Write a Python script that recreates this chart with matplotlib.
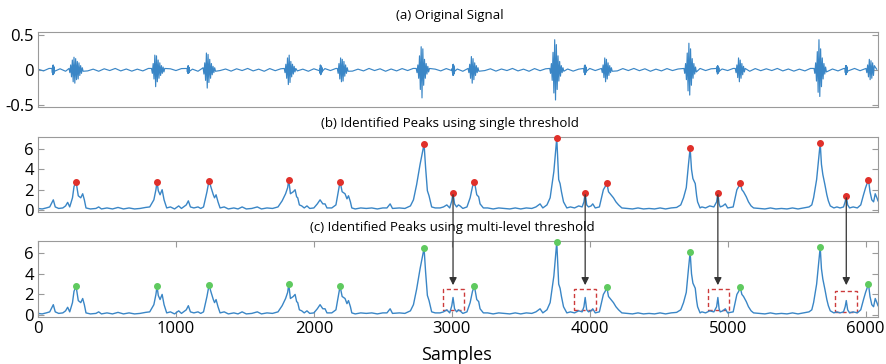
import matplotlib
matplotlib.use('Agg')
import numpy as np
import matplotlib.pyplot as plt
from matplotlib.patches import Rectangle, ConnectionPatch

plt.rcParams['font.family'] = ['Open Sans', 'DejaVu Sans']

# ---- (a) original signal: slow baseline ripple + oscillation bursts ----
base_x = list(range(0, 6120, 40))
base_y = [0.01, -0.015, 0.02, -0.01, 0.015, -0.02, 0.01, -0.012, 0.018, -0.015, 0.01, -0.02, 0.015, -0.01, 0.02, -0.015, 0.012,
          -0.018, 0.01, -0.015, 0.02, -0.01, 0.012, -0.02, 0.015, -0.01, 0.018, -0.012, 0.01, -0.02, 0.015, -0.015, 0.02,
          -0.01, 0.012, -0.018, 0.015, -0.01, 0.02, -0.015, 0.01, -0.02, 0.018, -0.012, 0.015, -0.01, 0.02, -0.015, 0.01,
          -0.02, 0.015, -0.012, 0.018, -0.01, 0.02, -0.015, 0.012, -0.018, 0.01, -0.015, 0.02, -0.01, 0.015, -0.02, 0.012,
          -0.015, 0.018, -0.01, 0.02, -0.012, 0.015, -0.02, 0.01, -0.015, 0.018, -0.01, 0.012, -0.02, 0.015, -0.015, 0.02,
          -0.01, 0.015, -0.018, 0.012, -0.01, 0.02, -0.015, 0.01, -0.02, 0.018, -0.012, 0.015, -0.01, 0.02, -0.015, 0.012,
          -0.018, 0.01, -0.015, 0.02, -0.01, 0.015, -0.02, 0.012, -0.015, 0.018, -0.01, 0.02, -0.012, 0.015, -0.02, 0.01,
          -0.015, 0.018, -0.01, 0.012, -0.02, 0.015, -0.015, 0.02, -0.01, 0.015, -0.018, 0.012, -0.01, 0.02, -0.015, 0.01,
          -0.02, 0.018, -0.012, 0.015, -0.01, 0.02, -0.015, 0.012, -0.018, 0.01, -0.015, 0.02, -0.01, 0.015, -0.02, 0.012,
          -0.015, 0.018, -0.01, 0.02, -0.012, 0.015, -0.02, 0.01]

burst_c = [111, 276, 871, 1090, 1242, 1827, 2052, 2209, 2790, 3012, 3157, 3761, 3967, 4124, 4728, 4929, 5091, 5671, 5860, 6033]
burst_step = [2, 6, 6, 2, 6, 6, 2, 6, 6, 2, 6, 6, 2, 6, 6, 2, 6, 6, 2, 6]
burst_w = [
    [0.02, -0.04, 0.06, -0.07, 0.07, -0.06, 0.05, -0.05, 0.03, -0.02],
    [0.02, -0.04, 0.07, -0.1, 0.14, -0.17, 0.18, -0.19, 0.16, -0.14, 0.12, -0.13, 0.1, -0.08, 0.06, -0.05, 0.03, -0.02],
    [0.02, -0.05, 0.09, -0.13, 0.21, -0.24, 0.2, -0.17, 0.14, -0.12, 0.1, -0.08, 0.06, -0.05, 0.04, -0.03, 0.02],
    [0.02, -0.03, 0.05, -0.05, 0.06, -0.05, 0.04, -0.04, 0.03, -0.02],
    [0.03, -0.06, 0.1, -0.15, 0.24, -0.26, 0.22, -0.18, 0.15, -0.12, 0.09, -0.07, 0.05, -0.04, 0.03, -0.02],
    [0.02, -0.04, 0.08, -0.12, 0.17, -0.21, 0.21, -0.18, 0.12, -0.1, 0.08, -0.06, 0.05, -0.03, 0.02],
    [0.02, -0.05, 0.07, -0.07, 0.06, -0.06, 0.05, -0.04, 0.03, -0.02],
    [0.02, -0.05, 0.09, -0.13, 0.17, -0.17, 0.15, -0.16, 0.12, -0.09, 0.07, -0.05, 0.03, -0.02],
    [0.02, -0.04, 0.07, -0.12, 0.2, -0.28, 0.33, -0.4, 0.3, -0.22, 0.15, -0.12, 0.09, -0.06, 0.05, -0.03, 0.02],
    [0.02, -0.04, 0.07, -0.08, 0.08, -0.07, 0.06, -0.05, 0.03, -0.02],
    [0.02, -0.04, 0.08, -0.12, 0.19, -0.19, 0.16, -0.14, 0.1, -0.08, 0.06, -0.04, 0.03, -0.02],
    [0.02, -0.05, 0.09, -0.15, 0.25, -0.33, 0.43, -0.43, 0.36, -0.28, 0.2, -0.16, 0.12, -0.09, 0.06, -0.04, 0.03, -0.02],
    [0.02, -0.04, 0.06, -0.07, 0.07, -0.06, 0.05, -0.04, 0.03, -0.02],
    [0.02, -0.04, 0.07, -0.11, 0.17, -0.17, 0.15, -0.13, 0.1, -0.08, 0.06, -0.04, 0.03, -0.02],
    [0.02, -0.05, 0.09, -0.14, 0.24, -0.3, 0.38, -0.36, 0.3, -0.22, 0.16, -0.12, 0.09, -0.06, 0.04, -0.03],
    [0.02, -0.03, 0.05, -0.06, 0.06, -0.05, 0.04, -0.04, 0.03, -0.02],
    [0.02, -0.04, 0.07, -0.11, 0.17, -0.17, 0.14, -0.12, 0.09, -0.07, 0.05, -0.03, 0.02],
    [0.02, -0.05, 0.1, -0.16, 0.26, -0.32, 0.43, -0.38, 0.3, -0.24, 0.17, -0.13, 0.09, -0.06, 0.04, -0.03],
    [0.02, -0.04, 0.06, -0.07, 0.06, -0.06, 0.05, -0.04, 0.03, -0.02],
    [0.02, -0.04, 0.07, -0.1, 0.15, -0.14, 0.13, -0.12, 0.1, -0.08, 0.06],
]

# ---- (b)/(c) envelope of the signal ----
env_x = [0, 30, 60, 85, 111, 125, 150, 180, 200, 215, 230, 250, 261, 276, 292, 310, 324, 336, 348, 380,
         420, 440, 460, 500, 540, 580, 620, 660, 700, 740, 780, 810, 840, 855, 863, 872, 885, 900, 914, 933,
         960, 990, 1020, 1040, 1075, 1090, 1105, 1130, 1160, 1180, 1200, 1225, 1240, 1255, 1271, 1280, 1291, 1305, 1320, 1350,
         1380, 1420, 1450, 1480, 1510, 1550, 1590, 1620, 1660, 1700, 1740, 1770, 1795, 1810, 1818, 1830, 1851, 1864, 1875, 1883,
         1895, 1912, 1930, 1950, 1970, 2000, 2025, 2045, 2065, 2081, 2095, 2130, 2160, 2180, 2190, 2205, 2226, 2240, 2251, 2265,
         2275, 2300, 2340, 2380, 2420, 2460, 2500, 2530, 2553, 2570, 2620, 2660, 2700, 2722, 2745, 2770, 2799, 2810, 2823, 2835,
         2854, 2880, 2915, 2940, 2964, 2985, 3000, 3009, 3020, 3035, 3048, 3060, 3080, 3110, 3133, 3150, 3164, 3181, 3195, 3205,
         3229, 3260, 3300, 3340, 3380, 3420, 3460, 3500, 3540, 3580, 3610, 3640, 3660, 3690, 3713, 3740, 3761, 3768, 3775, 3785,
         3795, 3810, 3834, 3860, 3890, 3920, 3945, 3958, 3967, 3978, 3991, 4010, 4022, 4040, 4070, 4099, 4112, 4124, 4136, 4148,
         4172, 4190, 4209, 4233, 4270, 4310, 4350, 4390, 4430, 4470, 4510, 4550, 4590, 4630, 4660, 4680, 4700, 4716, 4728, 4738,
         4748, 4765, 4775, 4782, 4800, 4813, 4840, 4870, 4900, 4920, 4929, 4938, 4946, 4965, 4983, 5000, 5040, 5067, 5080, 5091,
         5103, 5115, 5135, 5151, 5170, 5188, 5230, 5270, 5310, 5350, 5390, 5430, 5470, 5510, 5550, 5590, 5610, 5623, 5645, 5659,
         5671, 5680, 5690, 5705, 5719, 5730, 5744, 5770, 5792, 5815, 5840, 5852, 5860, 5870, 5884, 5910, 5940, 5965, 5985, 6000,
         6021, 6032, 6045, 6058, 6070, 6082, 6090]
env_y = [0.15, 0.1, 0.2, 0.3, 1.0, 0.3, 0.15, 0.2, 0.4, 0.75, 0.3, 1.2, 2.3, 2.8, 1.4, 1.2, 1.6, 1.0, 0.2, 0.1,
         0.15, 0.3, 0.1, 0.2, 0.1, 0.25, 0.1, 0.2, 0.1, 0.15, 0.25, 0.3, 1.0, 2.0, 2.8, 1.9, 1.5, 2.0, 1.0, 0.2,
         0.3, 0.1, 0.4, 0.15, 0.5, 0.9, 0.3, 0.2, 0.3, 0.15, 0.3, 1.8, 2.9, 2.2, 1.5, 1.2, 1.5, 0.8, 0.2, 0.3,
         0.1, 0.2, 0.1, 0.3, 0.1, 0.15, 0.3, 0.1, 0.2, 0.15, 0.3, 0.9, 1.6, 2.2, 3.0, 1.6, 1.8, 2.0, 1.3, 1.2,
         0.5, 0.4, 0.2, 0.4, 0.15, 0.2, 0.6, 1.0, 0.6, 0.6, 0.2, 0.2, 0.5, 2.0, 2.8, 1.8, 1.6, 1.1, 1.4, 0.8,
         0.2, 0.1, 0.2, 0.15, 0.2, 0.1, 0.2, 0.2, 0.6, 0.15, 0.2, 0.15, 0.4, 1.0, 2.5, 4.5, 6.5, 4.2, 1.9, 1.4,
         0.3, 0.2, 0.2, 0.3, 0.5, 0.2, 0.9, 1.7, 0.6, 0.3, 0.5, 0.4, 0.15, 0.3, 1.2, 2.3, 2.8, 1.5, 1.3, 0.6,
         0.2, 0.2, 0.1, 0.2, 0.15, 0.1, 0.2, 0.1, 0.2, 0.15, 0.3, 0.6, 0.2, 0.5, 1.2, 3.8, 7.1, 5.0, 3.0, 2.6,
         1.8, 0.8, 0.2, 0.3, 0.2, 0.4, 0.3, 0.8, 1.7, 0.5, 0.3, 0.4, 0.6, 0.2, 0.3, 2.0, 2.3, 2.7, 1.8, 1.6,
         1.2, 0.8, 0.5, 0.2, 0.15, 0.1, 0.2, 0.1, 0.15, 0.1, 0.2, 0.1, 0.2, 0.25, 0.5, 1.2, 2.2, 4.5, 6.1, 4.0,
         3.1, 2.6, 1.4, 0.8, 0.2, 0.3, 0.2, 0.4, 0.3, 0.8, 1.7, 0.6, 0.3, 0.4, 0.6, 0.2, 0.3, 2.0, 2.3, 2.7,
         2.0, 1.8, 1.3, 0.8, 0.4, 0.2, 0.15, 0.1, 0.2, 0.1, 0.15, 0.1, 0.2, 0.1, 0.2, 0.3, 0.5, 1.2, 3.0, 5.0,
         6.6, 4.5, 3.5, 2.5, 1.5, 0.9, 0.4, 0.2, 0.3, 0.2, 0.3, 0.8, 1.4, 0.5, 0.2, 0.3, 0.2, 0.5, 1.5, 2.2,
         3.0, 1.8, 1.0, 0.8, 1.6, 1.2, 0.9]

# peaks found with a single threshold (b)
peak_x = [276, 863, 1240, 1818, 2190, 2799, 3009, 3164, 3761, 3967, 4124, 4728, 4929, 5091, 5671, 5860, 6021]
peak_y = [2.8, 2.8, 2.9, 3.0, 2.8, 6.5, 1.7, 2.8, 7.1, 1.7, 2.7, 6.1, 1.7, 2.7, 6.6, 1.4, 3.0]
# peaks rejected by the multi-level threshold (c)
false_x = [3009, 3967, 4929, 5860]
box_x0 = [2937, 3887, 4858, 5780]
box_x1 = [3089, 4046, 5011, 5939]
box_y0 = [0.5, 0.5, 0.5, 0.3]
box_y1 = [2.5, 2.5, 2.5, 2.3]

line_col = '#3a86c6'
frame_col = '#9a9a9a'

# build signal of panel (a)
sx = np.array(base_x, dtype=float)
sy = np.array(base_y, dtype=float)
keep = np.ones(len(sx), bool)
bx, by = [], []
for c, s, w in zip(burst_c, burst_step, burst_w):
    half = (len(w) - 1) * s / 2
    keep &= ~((sx > c - half - s) & (sx < c + half + s))
    bx += list(c - half + s * np.arange(len(w)))
    by += w
allx = np.concatenate([sx[keep], bx])
ally = np.concatenate([sy[keep], by])
order = np.argsort(allx)
sig_x, sig_y = allx[order], ally[order]

fig = plt.figure(figsize=(8.87, 3.64), dpi=100)
L, W = 38 / 887, 840 / 887
ax_a = fig.add_axes([L, 1 - 107 / 364, W, 75 / 364])
ax_b = fig.add_axes([L, 1 - 212 / 364, W, 75 / 364])
ax_c = fig.add_axes([L, 1 - 317 / 364, W, 76 / 364])

ax_a.plot(sig_x, sig_y, color=line_col, lw=0.85)
ax_a.set_ylim(-0.53, 0.54)
ax_a.set_yticks([-0.5, 0, 0.5], ['-0.5', '0', '0.5'])

ax_b.plot(env_x, env_y, color=line_col, lw=1.0)
ax_b.plot(peak_x, peak_y, 'o', color='#e0302a', ms=4, clip_on=False, zorder=5)

ax_c.plot(env_x, env_y, color=line_col, lw=1.0)
gx = [x for x in peak_x if x not in false_x]
gy = [y for x, y in zip(peak_x, peak_y) if x not in false_x]
ax_c.plot(gx, gy, 'o', color='#5fca5f', ms=4, clip_on=False, zorder=5)
for x0, x1, y0, y1 in zip(box_x0, box_x1, box_y0, box_y1):
    ax_c.add_patch(Rectangle((x0, y0), x1 - x0, y1 - y0, fill=False, ls=(0, (3, 2)),
                             ec='#cc3b3b', lw=1.0))

for x, y in zip(false_x, [peak_y[peak_x.index(v)] for v in false_x]):
    con = ConnectionPatch(xyA=(x, y - 0.2), coordsA='data', axesA=ax_b,
                          xyB=(x, 2.9), coordsB='data', axesB=ax_c,
                          arrowstyle='-|>', color='#333333', lw=0.9, mutation_scale=11)
    fig.add_artist(con)

for ax in (ax_a, ax_b, ax_c):
    ax.set_xlim(0, 6090)
    for sp in ax.spines.values():
        sp.set_color(frame_col)
        sp.set_linewidth(0.8)
    ax.tick_params(direction='in', length=4, color=frame_col, labelsize=12, pad=3,
                   right=True, top=True)
for ax in (ax_b, ax_c):
    ax.set_ylim(-0.2, 7.2)
    ax.set_yticks([0, 2, 4, 6])
for ax in (ax_a, ax_b):
    ax.set_xticks([])
ax_c.set_xticks([0, 1000, 2000, 3000, 4000, 5000, 6000])

fig.text(0.507, 1 - 15 / 364, '(a) Original Signal', ha='center', va='center', fontsize=9.5)
fig.text(0.507, 1 - 123 / 364, '(b) Identified Peaks using single threshold', ha='center', va='center', fontsize=9.5)
fig.text(0.51, 1 - 227 / 364, '(c) Identified Peaks using multi-level threshold', ha='center', va='center', fontsize=9.5)
fig.text(0.515, 1 - 355 / 364, 'Samples', ha='center', va='center', fontsize=13)

fig.savefig('out.png', dpi=100)
